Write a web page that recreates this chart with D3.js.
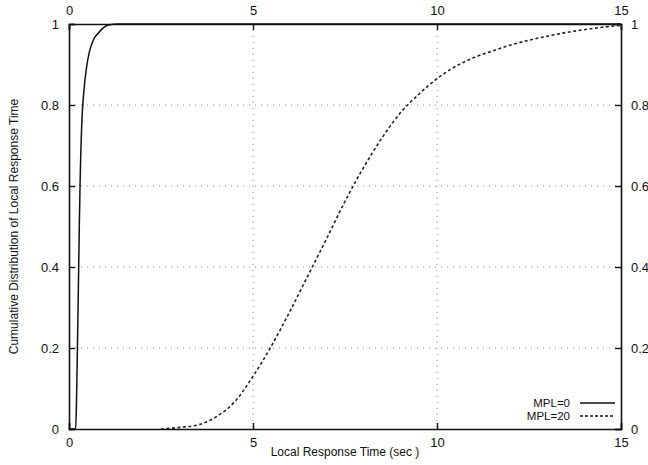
<!DOCTYPE html>
<html>
<head>
<meta charset="utf-8">
<script src="https://cdn.jsdelivr.net/npm/d3@7"></script>
<style>
  body { margin: 0; background: #fff; }
  svg text { font-family: "Liberation Sans", Arial, sans-serif; fill: #111; }
  .grid line { stroke: #888; stroke-width: 1; stroke-dasharray: 1 5; }
</style>
</head>
<body>
<div id="graphic"></div>
<script>
// series
const mpl0X = [0, 0.18, 0.2, 0.22, 0.25, 0.28, 0.3, 0.35, 0.4, 0.48, 0.55, 0.66, 0.8, 0.9, 1.1, 1.3, 15];
const mpl0Y = [0, 0, 0.05, 0.15, 0.32, 0.5, 0.6, 0.76, 0.83, 0.895, 0.93, 0.96, 0.978, 0.988, 0.998, 1, 1];

const mpl20X = [2.5, 3, 3.5, 4, 4.5, 5, 5.5, 6, 6.5, 7, 7.5, 8, 8.5, 9, 9.5, 10, 10.5, 11, 11.5, 12, 12.5, 13, 13.5, 14, 14.5, 15];
const mpl20Y = [0, 0.004, 0.01, 0.03, 0.067, 0.13, 0.205, 0.29, 0.38, 0.47, 0.562, 0.645, 0.718, 0.78, 0.826, 0.865, 0.895, 0.917, 0.933, 0.948, 0.96, 0.97, 0.979, 0.986, 0.992, 0.997];

const xTicks = [0, 5, 10, 15];
const yTicks = [0, 0.2, 0.4, 0.6, 0.8, 1];
const seriesNames = ['MPL=0', 'MPL=20'];

const width = 648, height = 465;
const margin = { top: 24, right: 27, bottom: 36, left: 69 };
const chartWidth = width - margin.left - margin.right;
const chartHeight = height - margin.top - margin.bottom;

const svgRoot = d3.select('#graphic').append('svg')
  .attr('width', width).attr('height', height);
const svg = svgRoot.append('g')
  .attr('transform', `translate(${margin.left},${margin.top})`);

const x = d3.scaleLinear().domain([0, 15]).range([0, chartWidth]);
const y = d3.scaleLinear().domain([0, 1]).range([chartHeight, 0]);

// dotted grid
svg.append('g').attr('class', 'grid')
  .selectAll('line').data(xTicks.slice(1, -1)).join('line')
  .attr('x1', d => x(d)).attr('x2', d => x(d))
  .attr('y1', 0).attr('y2', chartHeight);
svg.append('g').attr('class', 'grid')
  .selectAll('line').data(yTicks.slice(1, -1)).join('line')
  .attr('x1', 0).attr('x2', chartWidth)
  .attr('y1', d => y(d)).attr('y2', d => y(d));

// axes on all four sides, ticks pointing inward
const fmtY = d => d === 0 || d === 1 ? d3.format('d')(d) : d3.format('.1f')(d);
const axes = [
  svg.append('g').attr('transform', `translate(0,${chartHeight})`)
    .call(d3.axisBottom(x).tickValues(xTicks).tickSize(-6).tickPadding(9)),
  svg.append('g')
    .call(d3.axisTop(x).tickValues(xTicks).tickSize(-6).tickPadding(9)),
  svg.append('g')
    .call(d3.axisLeft(y).tickValues(yTicks).tickFormat(fmtY).tickSize(-6).tickPadding(10)),
  svg.append('g').attr('transform', `translate(${chartWidth},0)`)
    .call(d3.axisRight(y).tickValues(yTicks).tickFormat(fmtY).tickSize(-6).tickPadding(10))
];
axes.forEach(a => {
  a.select('.domain').attr('stroke', '#111').attr('stroke-width', 1.6);
  a.selectAll('.tick line').attr('stroke', '#111').attr('stroke-width', 1.4);
  a.selectAll('.tick text').attr('font-size', 13);
});

// curves
const line = d3.line().x(d => x(d[0])).y(d => y(d[1])).curve(d3.curveMonotoneX);
svg.append('path')
  .datum(mpl0X.map((v, i) => [v, mpl0Y[i]]))
  .attr('fill', 'none').attr('stroke', '#111').attr('stroke-width', 1.5)
  .attr('d', line);
svg.append('path')
  .datum(mpl20X.map((v, i) => [v, mpl20Y[i]]))
  .attr('fill', 'none').attr('stroke', '#222').attr('stroke-width', 1.6)
  .attr('stroke-dasharray', '3 2.5')
  .attr('d', line);

// legend
const legend = svg.append('g').attr('transform', `translate(${chartWidth - 51},${chartHeight - 26})`);
seriesNames.forEach((name, i) => {
  const g = legend.append('g').attr('transform', `translate(0,${i * 13})`);
  g.append('text').attr('x', 0).attr('y', 4).attr('text-anchor', 'end')
    .attr('font-size', 11.5).text(name);
  g.append('line').attr('x1', 10).attr('x2', 45).attr('y1', 0).attr('y2', 0)
    .attr('stroke', '#111').attr('stroke-width', 1.3)
    .attr('stroke-dasharray', i === 1 ? '3 2' : null);
});

// axis titles
svgRoot.append('text')
  .attr('x', margin.left + chartWidth / 2).attr('y', 456)
  .attr('text-anchor', 'middle').attr('font-size', 12)
  .text('Local Response Time (sec )');
svgRoot.append('text')
  .attr('transform', `translate(18,${margin.top + chartHeight / 2}) rotate(-90)`)
  .attr('text-anchor', 'middle').attr('font-size', 12)
  .text('Cumulative Distribution of Local Response Time');
</script>
</body>
</html>
